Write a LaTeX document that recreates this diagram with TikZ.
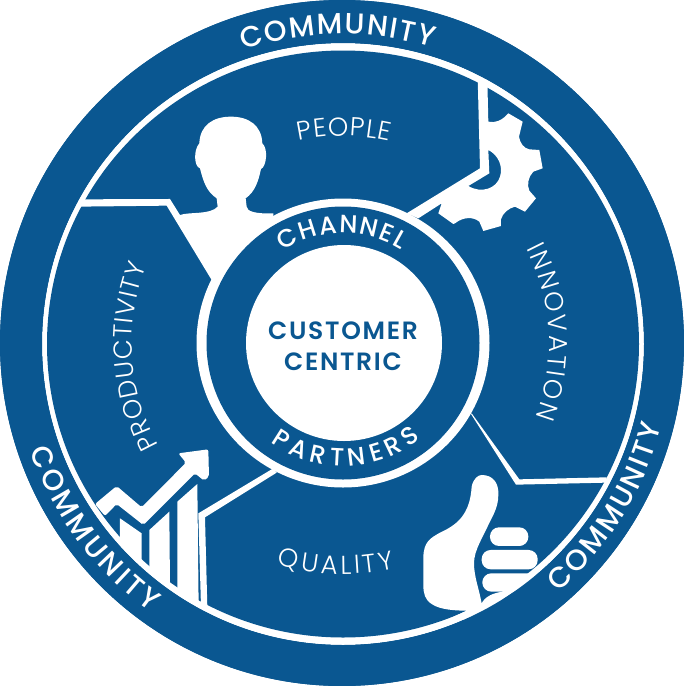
\documentclass[tikz,border=0pt]{standalone}
\usepackage{fontspec}
\usepackage{tikz}
\usetikzlibrary{decorations.text}
\setmainfont{Poppins}
\newfontfamily\lightfont{Poppins Light}
\newfontfamily\mediumfont{Poppins Medium}
\newfontfamily\boldfont[LetterSpace=6.8]{Poppins SemiBold}
\definecolor{deepblue}{RGB}{10, 87, 145}
\tikzset{
    iconfill/.style={fill=white, even odd rule},
    arctext/.style={decorate, decoration={text along path, text={#1}, text align=fit to path}}
}
\newcommand{\ringfont}{\mediumfont\fontsize{29}{29}\selectfont\color{white}}
\newcommand{\bandfont}{\mediumfont\fontsize{25}{25}\selectfont\color{white}}
\newcommand{\wedgefont}{\lightfont\fontsize{26}{26}\selectfont\color{white}}

\begin{document}
\begin{tikzpicture}[x=1pt, y=-1pt]
    \useasboundingbox (0,0) rectangle (684,686);
    \coordinate (mid) at (342,343);
    \coordinate (ring) at (343,344);
    \coordinate (hub) at (343,343);
    % Disc and white ring
    \fill[white]                    (0,0) rectangle (684,686);
    \fill[deepblue]                 (mid) ellipse (342pt and 343pt);
    \fill[white]                    (ring) circle (301pt);
    \fill[deepblue]                 (ring) ellipse (296pt and 293.5pt);
    % Person
    \begin{scope}[shift={(70,100)}, scale=0.3333]
        \fill[iconfill] (330,345) .. controls (360,335) and (420,345) .. (443,320) -- (440,295)
            .. controls (410,275) and (400,245) .. (390,205) .. controls (372,200) and (370,150) .. (388,130)
            .. controls (390,75) and (430,50) .. (483,50) .. controls (535,50) and (575,75) .. (577,130)
            .. controls (595,145) and (590,200) .. (573,207) .. controls (565,245) and (555,275) .. (527,295)
            -- (530,320) .. controls (530,335) and (560,342) .. (610,340) -- (610,560) -- (425,540)
            -- (290,317) -- (20,320) -- (40,298) -- (300,297) -- cycle;
    \end{scope}
    % Gear
    \begin{scope}[shift={(400,70)}, scale=0.3333]
        \fill[iconfill] (233,20) -- (262,30) -- (265,155) .. controls (285,160) and (305,150) .. (315,140)
            -- (325,130) -- (368,155) -- (357,200) .. controls (360,220) and (372,235) .. (388,238)
            -- (418,240) -- (428,295) -- (400,305) .. controls (385,320) and (380,345) .. (388,362)
            -- (408,385) -- (375,425) -- (345,410) .. controls (325,415) and (308,430) .. (303,448)
            -- (303,468) -- (250,483) -- (238,455) .. controls (220,440) and (190,440) .. (165,460)
            -- (160,462) -- (115,430) -- (125,400) -- (55,445) -- (20,430) -- (240,295) -- cycle
            (205,348) -- (268,310) -- (265,240) .. controls (295,255) and (310,290) .. (300,320)
            .. controls (290,355) and (245,372) .. (205,348) -- cycle;
    \end{scope}
    % Chart
    \begin{scope}[shift={(60,430)}, scale=0.3333]
        \fill[white, rounded corners=2pt] (105,222) -- (170,168) -- (245,232) -- (378,98) -- (355,70) -- (445,58)
            -- (447,140) -- (432,152) -- (405,130) -- (250,285) -- (170,222) -- (135,258) -- cycle;
        \fill[white] (180,265) -- (245,310) -- (245,410) -- (180,350) -- cycle;
        \fill[white] (268,300) -- (328,245) -- (330,470) -- (268,420) -- cycle;
        \fill[white] (352,215) -- (412,162) -- (416,530) -- (352,490) -- cycle;
        \fill[white] (640,115) -- (650,128) -- (435,262) -- (442,530) -- (423,530) -- (415,250) -- cycle;
    \end{scope}
    % Thumb
    \begin{scope}[shift={(400,400)}, scale=0.3333]
        \fill[white] (215,260) .. controls (220,235) and (235,225) .. (245,225) .. controls (280,225) and (297,250) .. (295,285)
            .. controls (295,320) and (280,345) .. (265,375) .. controls (250,410) and (222,450) .. (222,490)
            .. controls (222,530) and (238,570) .. (245,610) .. controls (255,590) and (280,578) .. (310,575)
            -- (310,660) -- (140,660) -- (200,632) .. controls (170,632) and (120,630) .. (95,612)
            .. controls (75,600) and (70,580) .. (70,555) -- (70,470) .. controls (72,425) and (90,415) .. (120,398)
            .. controls (170,375) and (210,345) .. (215,260) -- cycle;
        \fill[white, rounded corners=9pt] (270,382) rectangle (385,438);
        \fill[white, rounded corners=9pt] (245,450) rectangle (413,508);
        \fill[white, rounded corners=9pt] (247,520) rectangle (420,575);
        \fill[white] (215,40) -- (358,238) -- (620,232) -- (618,248) -- (348,254) -- (213,42) -- cycle;
    \end{scope}
    % Outer band, over the icons
    \fill[deepblue, even odd rule]  (mid) ellipse (342pt and 343pt) (ring) circle (301pt);
    % Hub
    \fill[white]                    (hub) ellipse (146.5pt and 144.5pt);
    \fill[deepblue]                 (hub) circle (136.5pt);
    \fill[white]                    (344,343) circle (98pt);
    \node[font=\boldfont\fontsize{25}{31}\selectfont, text=deepblue, align=center] (centric) at (343,346) {CUSTOMER\\CENTRIC};
    % Curved labels
    \begin{scope}[y=1pt, yshift=-686pt]
        \path[arctext={|\ringfont|COMMUNITY}]
            (342,343) ++(108.5:309) arc[start angle=108.5, end angle=73, radius=309];
        \path[arctext={|\ringfont|COMMUNITY}]
            (342,343) ++(199:330) arc[start angle=199, end angle=234.5, radius=330];
        \path[arctext={|\ringfont|COMMUNITY}]
            (342,343) ++(-49:330) arc[start angle=-49, end angle=-14.5, radius=330];
        \path[arctext={|\bandfont|CHANNEL}]
            (343,343) ++(123:110) arc[start angle=123, end angle=58, radius=110];
        \path[arctext={|\bandfont|PARTNERS}]
            (343,343) ++(-126:123) arc[start angle=-126, end angle=-51, radius=123];
        \path[arctext={|\wedgefont|PEOPLE}]
            (343,343) ++(102.3:207) arc[start angle=102.3, end angle=77, radius=207];
        \path[arctext={|\wedgefont|INNOVATION}]
            (343,343) ++(27.3:206) arc[start angle=27.3, end angle=-21, radius=206];
        \path[arctext={|\wedgefont|PRODUCTIVITY}]
            (343,343) ++(208.9:211) arc[start angle=208.9, end angle=158.5, radius=211];
        \path[arctext={|\wedgefont|QUALITY}]
            (343,343) ++(-106.6:231) arc[start angle=-106.6, end angle=-77, radius=231];
    \end{scope}
\end{tikzpicture}
\end{document}
